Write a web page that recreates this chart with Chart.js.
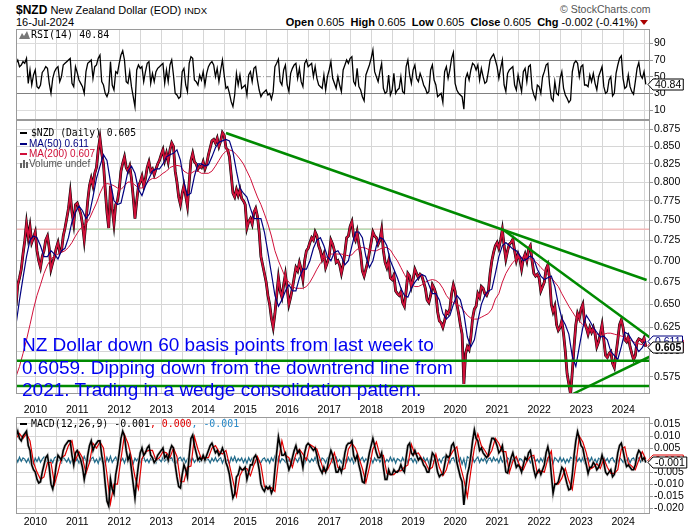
<!DOCTYPE html>
<html>
<head>
<meta charset="utf-8">
<script src="https://cdn.jsdelivr.net/npm/chart.js@4.4.1/dist/chart.umd.min.js"></script>
<style>
body { margin: 0; background: #fff; }
#wrap { position: relative; width: 700px; height: 530px; overflow: hidden; font-family: 'Liberation Sans', Arial, sans-serif; color: #000; }
#wrap canvas { position: absolute; left: 0; }
.t { position: absolute; white-space: nowrap; line-height: 12px; }
.mono { font-family: 'DejaVu Sans Mono', monospace; }
.dash { position: absolute; width: 7px; height: 2px; }
</style>
</head>
<body>
<div id="wrap">
  <div class="t" style="left:16px;top:3px;font-size:11px;line-height:14px"><b style="font-size:12px">$NZD</b> New Zealand Dollar (EOD) <span style="font-size:9.5px">INDX</span></div>
  <div class="t" style="left:16px;top:16px;font-size:11px">16-Jul-2024</div>
  <div class="t" style="left:560px;top:3px;font-size:10.5px;color:#555">© StockCharts.com</div>
  <div class="t" style="right:62px;top:16px;font-size:11px"><b>Open</b> 0.605&nbsp; <b>High</b> 0.605&nbsp; <b>Low</b> 0.605&nbsp; <b>Close</b> 0.605&nbsp; <b>Chg</b> -0.002 (-0.41%)</div>
  <div style="position:absolute;left:640px;top:20px;width:0;height:0;border-left:4px solid transparent;border-right:4px solid transparent;border-top:5px solid #a00"></div>

  <canvas id="rsiChart" width="700" height="91" style="top:29px"></canvas>
  <canvas id="priceChart" width="700" height="296" style="top:120px"></canvas>
  <canvas id="macdChart" width="700" height="113" style="top:417px"></canvas>

  <svg style="position:absolute;left:19px;top:31px" width="11" height="8"><polygon points="0,8 3,2 5,5 8,0 11,8" fill="#777"/></svg>
  <div class="t mono" style="left:31px;top:29px;font-size:10px">RSI(14) 40.84</div>

  <div class="dash" style="left:20px;top:132px;background:#000"></div>
  <div class="t mono" style="left:31px;top:127px;font-size:9.7px">$NZD (Daily) 0.605</div>
  <div class="dash" style="left:20px;top:143px;background:#000080"></div>
  <div class="t" style="left:29px;top:138px;font-size:10px;color:#000080">MA(50) 0.611</div>
  <div class="dash" style="left:20px;top:153px;background:#d0103a"></div>
  <div class="t" style="left:29px;top:148px;font-size:10px;color:#d0103a">MA(200) 0.607</div>
  <svg style="position:absolute;left:20px;top:160px" width="9" height="8"><rect x="0" y="3" width="2" height="5" fill="#666"/><rect x="3" y="0" width="2" height="8" fill="#666"/><rect x="6" y="2" width="2" height="6" fill="#666"/></svg>
  <div class="t" style="left:29px;top:158px;font-size:10px;color:#555">Volume undef</div>

  <div class="t" style="left:22px;top:334px;font-size:19px;line-height:22.5px;color:#0000f0">NZ Dollar down 60 basis points from last week to<br>0.6059. Dipping down from the downtrend line from<br>2021. Trading in a wedge consolidation pattern.</div>

  <div class="dash" style="left:20px;top:423px;background:#000"></div>
  <div class="t mono" style="left:31px;top:418px;font-size:9.9px">MACD(12,26,9) -0.001<span style="color:#e00000">, 0.000</span><span style="color:#2a8ac8">, -0.001</span></div>
</div>

<script>
// time axis: decimal years, first point = mid-July 2009
const X_MIN = 2009.54
const X_MAX = 2024.64
const HALF_MONTH = 1 / 24
const MONTH = 1 / 12

// $NZD close, one value every half month (Jul 2009 .. 16 Jul 2024)
const nzdClose = [
  0.648, 0.672, 0.680, 0.690, 0.708, 0.724, 0.746, 0.728, 0.742, 0.722, 0.728,
  0.735, 0.712, 0.700, 0.692, 0.705, 0.712, 0.725, 0.730, 0.715, 0.690, 0.698, 0.705, 0.715, 0.722, 0.710, 0.712, 0.730, 0.740, 0.752, 0.765, 0.785, 0.760, 0.745, 0.770,
  0.772, 0.765, 0.758, 0.745, 0.725, 0.748, 0.775, 0.795, 0.805, 0.795, 0.812, 0.820, 0.845, 0.862, 0.840, 0.825, 0.790, 0.760, 0.740, 0.795, 0.765, 0.745, 0.770, 0.775,
  0.790, 0.815, 0.826, 0.835, 0.820, 0.815, 0.822, 0.805, 0.780, 0.752, 0.775, 0.795, 0.800, 0.808, 0.795, 0.805, 0.820, 0.828, 0.815, 0.818, 0.810, 0.818, 0.825, 0.830,
  0.838, 0.845, 0.830, 0.840, 0.828, 0.845, 0.855, 0.850, 0.815, 0.800, 0.780, 0.770, 0.785, 0.795, 0.782, 0.768, 0.800, 0.830, 0.840, 0.828, 0.825, 0.818, 0.822, 0.820,
  0.828, 0.818, 0.825, 0.838, 0.848, 0.858, 0.860, 0.855, 0.862, 0.850, 0.858, 0.870, 0.866, 0.848, 0.845, 0.835, 0.810, 0.785, 0.780, 0.790, 0.782, 0.790, 0.778, 0.775,
  0.770, 0.740, 0.748, 0.752, 0.745, 0.760, 0.765, 0.755, 0.735, 0.705, 0.695, 0.685, 0.675, 0.660, 0.650, 0.635, 0.625, 0.640, 0.660, 0.680, 0.665, 0.658, 0.672, 0.684,
  0.668, 0.650, 0.658, 0.668, 0.680, 0.692, 0.688, 0.698, 0.690, 0.678, 0.700, 0.712, 0.715, 0.722, 0.728, 0.725, 0.735, 0.730, 0.718, 0.712, 0.702, 0.708, 0.692, 0.698,
  0.705, 0.725, 0.720, 0.712, 0.698, 0.700, 0.695, 0.685, 0.695, 0.710, 0.728, 0.730, 0.742, 0.748, 0.730, 0.725, 0.735, 0.720, 0.708, 0.688, 0.682, 0.690, 0.698, 0.710,
  0.722, 0.735, 0.730, 0.728, 0.720, 0.725, 0.738, 0.712, 0.698, 0.692, 0.700, 0.680, 0.678, 0.683, 0.665, 0.662, 0.660, 0.664, 0.652, 0.648, 0.665, 0.685, 0.682, 0.670,
  0.678, 0.690, 0.685, 0.680, 0.684, 0.682, 0.675, 0.668, 0.655, 0.652, 0.660, 0.672, 0.668, 0.662, 0.642, 0.632, 0.630, 0.625, 0.632, 0.642, 0.640, 0.645, 0.662, 0.672,
  0.665, 0.650, 0.640, 0.628, 0.618, 0.568, 0.598, 0.605, 0.602, 0.615, 0.635, 0.645, 0.648, 0.662, 0.658, 0.670, 0.668, 0.662, 0.660, 0.665, 0.685, 0.700, 0.710, 0.718,
  0.722, 0.715, 0.725, 0.738, 0.718, 0.702, 0.712, 0.720, 0.722, 0.726, 0.712, 0.700, 0.708, 0.702, 0.690, 0.702, 0.708, 0.700, 0.714, 0.718, 0.700, 0.685, 0.682, 0.684,
  0.680, 0.665, 0.670, 0.675, 0.690, 0.695, 0.680, 0.650, 0.642, 0.648, 0.628, 0.622, 0.625, 0.632, 0.618, 0.600, 0.578, 0.568, 0.558, 0.580, 0.605, 0.628, 0.640, 0.635,
  0.645, 0.650, 0.630, 0.625, 0.618, 0.625, 0.620, 0.625, 0.618, 0.605, 0.610, 0.618, 0.628, 0.612, 0.596, 0.594, 0.598, 0.600, 0.588, 0.584, 0.598, 0.612, 0.628, 0.633,
  0.625, 0.612, 0.610, 0.615, 0.605, 0.598, 0.592, 0.596, 0.610, 0.613, 0.612, 0.610, 0.614, 0.605
]

// moving averages, one value per month
const ma50 = [
  0.628, 0.655, 0.680, 0.705, 0.725, 0.730,
  0.728, 0.718, 0.705, 0.705, 0.712, 0.708, 0.702, 0.712, 0.715, 0.728, 0.748, 0.760,
  0.768, 0.762, 0.752, 0.758, 0.780, 0.805, 0.822, 0.838, 0.830, 0.800, 0.775, 0.770,
  0.772, 0.792, 0.815, 0.822, 0.812, 0.790, 0.782, 0.795, 0.805, 0.815, 0.818, 0.818,
  0.825, 0.835, 0.838, 0.840, 0.845, 0.830, 0.800, 0.782, 0.785, 0.808, 0.825, 0.825,
  0.822, 0.824, 0.835, 0.848, 0.856, 0.858, 0.860, 0.858, 0.842, 0.815, 0.792, 0.785,
  0.780, 0.765, 0.752, 0.752, 0.752, 0.735, 0.710, 0.685, 0.660, 0.648, 0.655, 0.665,
  0.672, 0.665, 0.665, 0.680, 0.690, 0.690, 0.700, 0.715, 0.725, 0.728, 0.718, 0.705,
  0.700, 0.710, 0.712, 0.705, 0.695, 0.700, 0.718, 0.735, 0.735, 0.728, 0.705, 0.692,
  0.700, 0.718, 0.728, 0.726, 0.718, 0.700, 0.690, 0.680, 0.668, 0.660, 0.658, 0.668,
  0.675, 0.680, 0.684, 0.682, 0.672, 0.662, 0.662, 0.655, 0.640, 0.634, 0.638, 0.650,
  0.660, 0.655, 0.640, 0.615, 0.605, 0.612, 0.632, 0.650, 0.660, 0.665, 0.667, 0.685,
  0.705, 0.718, 0.722, 0.718, 0.714, 0.712, 0.706, 0.700, 0.702, 0.706, 0.702, 0.690,
  0.682, 0.678, 0.680, 0.682, 0.670, 0.650, 0.635, 0.628, 0.618, 0.595, 0.585, 0.605,
  0.625, 0.638, 0.632, 0.625, 0.620, 0.615, 0.616, 0.612, 0.600, 0.596, 0.592, 0.605,
  0.620, 0.618, 0.612, 0.606, 0.600, 0.604, 0.611
]
const ma200 = [
  0.575, 0.585, 0.598, 0.612, 0.628, 0.645,
  0.660, 0.672, 0.685, 0.695, 0.702, 0.706, 0.708, 0.710, 0.712, 0.716, 0.722, 0.730,
  0.737, 0.742, 0.745, 0.752, 0.762, 0.772, 0.785, 0.795, 0.798, 0.797, 0.795, 0.792,
  0.790, 0.795, 0.800, 0.800, 0.796, 0.792, 0.792, 0.796, 0.802, 0.805, 0.805, 0.808,
  0.812, 0.815, 0.820, 0.822, 0.823, 0.822, 0.815, 0.812, 0.812, 0.815, 0.815, 0.812,
  0.812, 0.812, 0.815, 0.822, 0.830, 0.838, 0.843, 0.845, 0.843, 0.838, 0.832, 0.825,
  0.815, 0.805, 0.792, 0.780, 0.770, 0.758, 0.745, 0.730, 0.712, 0.700, 0.690, 0.680,
  0.675, 0.670, 0.668, 0.668, 0.668, 0.670, 0.675, 0.682, 0.690, 0.697, 0.702, 0.705,
  0.708, 0.708, 0.708, 0.708, 0.707, 0.706, 0.707, 0.712, 0.715, 0.716, 0.715, 0.713,
  0.712, 0.712, 0.714, 0.716, 0.716, 0.713, 0.706, 0.700, 0.692, 0.684, 0.677, 0.672,
  0.670, 0.670, 0.672, 0.675, 0.677, 0.678, 0.677, 0.674, 0.668, 0.660, 0.655, 0.652,
  0.650, 0.648, 0.643, 0.638, 0.635, 0.634, 0.634, 0.636, 0.638, 0.640, 0.645, 0.656,
  0.662, 0.675, 0.685, 0.692, 0.698, 0.702, 0.704, 0.704, 0.703, 0.702, 0.700, 0.697,
  0.692, 0.688, 0.684, 0.680, 0.675, 0.670, 0.662, 0.655, 0.648, 0.642, 0.636, 0.632,
  0.628, 0.625, 0.622, 0.620, 0.618, 0.618, 0.618, 0.619, 0.619, 0.618, 0.617, 0.616,
  0.615, 0.613, 0.611, 0.609, 0.608, 0.607, 0.607
]

// RSI(14), half-monthly
const rsi14 = [
  66, 70, 62, 64, 68, 66, 72, 42, 58, 40, 52,
  58, 38, 36, 40, 55, 58, 62, 60, 42, 30, 48, 56, 60, 62, 44, 50, 64, 66, 68, 70, 72, 42, 38, 62,
  55, 46, 42, 38, 30, 56, 66, 68, 70, 48, 62, 64, 72, 76, 44, 40, 30, 26, 32, 68, 40, 34, 56, 54,
  66, 76, 81, 70, 44, 42, 56, 38, 26, 14, 58, 64, 60, 62, 44, 56, 66, 68, 42, 54, 44, 56, 60, 62,
  64, 66, 42, 58, 44, 64, 70, 52, 30, 28, 24, 26, 56, 60, 40, 32, 66, 74, 72, 46, 44, 40, 52, 46,
  56, 40, 54, 62, 66, 68, 64, 50, 60, 44, 58, 70, 52, 36, 38, 30, 20, 14, 28, 54, 40, 52, 36, 38,
  40, 28, 52, 56, 44, 60, 62, 46, 34, 26, 30, 32, 34, 28, 30, 23, 32, 62, 66, 71, 44, 40, 58, 64,
  40, 32, 54, 60, 64, 66, 48, 60, 44, 38, 66, 70, 62, 64, 66, 50, 62, 48, 40, 38, 36, 52, 34, 50,
  58, 68, 48, 42, 36, 50, 40, 32, 58, 64, 70, 66, 72, 74, 44, 40, 60, 38, 34, 26, 21, 52, 58, 64,
  72, 82, 56, 50, 44, 56, 66, 36, 30, 32, 52, 28, 34, 54, 30, 34, 36, 50, 32, 30, 62, 70, 52, 42,
  58, 64, 48, 44, 54, 48, 40, 36, 30, 32, 58, 64, 46, 40, 26, 28, 30, 19, 56, 62, 48, 58, 72, 79,
  42, 34, 30, 28, 26, 11, 48, 54, 46, 58, 66, 64, 58, 64, 46, 60, 50, 42, 44, 56, 70, 74, 77, 70,
  62, 48, 60, 70, 40, 32, 54, 58, 60, 62, 40, 34, 52, 42, 32, 56, 60, 44, 62, 64, 36, 28, 23, 40,
  38, 30, 50, 56, 64, 66, 40, 24, 21, 44, 30, 28, 48, 56, 36, 28, 24, 19, 22, 56, 66, 69, 66, 50,
  62, 64, 40, 40, 38, 52, 44, 54, 42, 34, 50, 56, 62, 38, 30, 32, 46, 50, 27, 30, 54, 64, 72, 75,
  48, 36, 38, 52, 38, 32, 29, 44, 60, 67, 52, 48, 56, 40.84
]

// MACD(12,26,9): line and histogram half-monthly, signal monthly
const macdLine = [
  0.010, 0.012, 0.009, 0.008, 0.010, 0.011, 0.012, 0.006, 0.004, -0.002, -0.004,
  -0.005, -0.008, -0.0095, -0.009, -0.005, -0.002, 0.001, 0.002, -0.003, -0.010, -0.012, -0.008, -0.002, 0.002, 0.001, 0.000, 0.004, 0.006, 0.007, 0.008, 0.008, 0.002, -0.002, 0.003,
  0.004, 0.002, 0.000, -0.003, -0.008, -0.004, 0.002, 0.006, 0.008, 0.004, 0.006, 0.007, 0.008, 0.008, 0.002, -0.002, -0.010, -0.017, -0.019, -0.008, -0.012, -0.014, -0.006, -0.002,
  0.003, 0.009, 0.012, 0.010, 0.004, 0.000, 0.002, -0.004, -0.010, -0.0157, -0.008, -0.002, 0.003, 0.005, 0.002, 0.003, 0.005, 0.006, 0.002, 0.001, -0.001, 0.000, 0.002, 0.003,
  0.004, 0.005, 0.001, 0.002, 0.000, 0.004, 0.006, 0.005, -0.002, -0.007, -0.011, -0.0116, -0.006, -0.002, -0.004, -0.007, 0.002, 0.009, 0.0104, 0.006, 0.003, 0.000, 0.001, 0.000,
  0.002, 0.000, 0.002, 0.004, 0.006, 0.007, 0.005, 0.003, 0.004, 0.002, 0.003, 0.005, 0.003, -0.001, -0.003, -0.006, -0.011, -0.0157, -0.014, -0.007, -0.006, -0.003, -0.004, -0.004,
  -0.003, -0.008, -0.005, -0.002, -0.002, 0.001, 0.002, 0.000, -0.004, -0.010, -0.012, -0.013, -0.011, -0.012, -0.011, -0.0137, -0.012, -0.004, 0.003, 0.0097, 0.006, 0.002, 0.002, 0.003,
  -0.001, -0.004, -0.002, 0.001, 0.004, 0.006, 0.003, 0.004, 0.001, -0.003, 0.003, 0.006, 0.007, 0.006, 0.005, 0.004, 0.005, 0.002, -0.002, -0.004, -0.0054, -0.003, -0.005, -0.003,
  0.001, 0.004, 0.002, -0.001, -0.005, -0.005, -0.003, -0.005, -0.002, 0.003, 0.006, 0.007, 0.007, 0.008, 0.002, 0.000, 0.002, -0.002, -0.005, -0.009, -0.0095, -0.005, -0.001, 0.003,
  0.006, 0.009, 0.006, 0.003, 0.001, 0.001, 0.003, -0.003, -0.008, -0.008, -0.004, -0.006, -0.006, -0.004, -0.005, -0.005, -0.004, -0.002, -0.004, -0.005, 0.001, 0.006, 0.007, 0.003,
  0.002, 0.004, 0.002, 0.000, 0.001, 0.000, -0.002, -0.003, -0.005, -0.005, -0.001, 0.003, 0.002, -0.001, -0.005, -0.0069, -0.006, -0.006, -0.002, 0.002, 0.001, 0.002, 0.006, 0.007,
  0.004, -0.001, -0.004, -0.007, -0.009, -0.0186, -0.012, -0.006, -0.003, 0.002, 0.008, 0.0125, 0.009, 0.008, 0.004, 0.005, 0.003, 0.002, 0.001, 0.002, 0.006, 0.009, 0.009, 0.008,
  0.006, 0.003, 0.004, 0.006, 0.001, -0.005, -0.0054, -0.002, 0.001, 0.003, 0.000, -0.003, -0.002, -0.003, -0.005, -0.002, 0.001, 0.000, 0.003, 0.004, 0.000, -0.004, -0.0069, -0.005,
  -0.004, -0.006, -0.004, -0.002, 0.003, 0.0055, 0.002, -0.006, -0.0137, -0.010, -0.010, -0.009, -0.006, -0.003, -0.004, -0.007, -0.010, -0.0124, -0.012, -0.006, 0.002, 0.008, 0.0118, 0.009,
  0.006, 0.005, 0.001, -0.002, -0.0055, -0.003, -0.003, -0.001, -0.002, -0.004, -0.003, -0.001, 0.002, -0.001, -0.005, -0.006, -0.005, -0.004, -0.0069, -0.006, -0.002, 0.003, 0.006, 0.007,
  0.004, 0.000, -0.0027, -0.002, -0.003, -0.004, -0.004, -0.002, 0.002, 0.004, 0.003, 0.000, 0.001, -0.001
]
const macdSignal = [
  0.009, 0.011, 0.009, 0.011, 0.008, -0.001,
  -0.005, -0.008, -0.007, -0.001, -0.001, -0.010, -0.005, 0.001, 0.002, 0.006, 0.008, 0.000,
  0.0035, 0.001, -0.0055, -0.001, 0.007, 0.005, 0.0075, 0.005, -0.006, -0.018, -0.010, -0.010,
  0.0005, 0.0105, 0.007, 0.001, -0.007, -0.012, 0.0005, 0.0035, 0.004, 0.004, 0.000, 0.001,
  0.0035, 0.003, 0.001, 0.005, 0.0015, -0.009, -0.009, -0.003, -0.0025, 0.0097, 0.0045, 0.0005,
  0.001, 0.001, 0.005, 0.006, 0.0035, 0.0025, 0.004, -0.002, -0.0085, -0.015, -0.0065, -0.0035,
  -0.0035, -0.0065, -0.002, 0.0015, -0.002, -0.011, -0.012, -0.0115, -0.013, -0.0005, 0.008, 0.002,
  0.001, -0.003, 0.0025, 0.0045, 0.0025, 0.000, 0.0065, 0.0055, 0.0045, 0.000, -0.0047, -0.004,
  -0.001, 0.003, -0.003, -0.004, -0.0035, 0.0045, 0.007, 0.005, 0.001, -0.0035, -0.0093, -0.003,
  0.0045, 0.0075, 0.002, 0.002, -0.0055, -0.006, -0.006, -0.0045, -0.0045, -0.003, -0.002, 0.0065,
  0.0025, 0.003, 0.0005, -0.001, -0.004, -0.003, 0.0025, -0.003, -0.0065, -0.004, 0.0015, 0.004,
  0.0055, -0.0025, -0.008, -0.0153, -0.0045, 0.005, 0.0108, 0.006, 0.004, 0.0015, 0.004, 0.009,
  0.007, 0.0035, 0.0035, -0.0052, -0.0005, 0.0015, -0.0025, -0.004, -0.0005, 0.0015, 0.002, -0.0055,
  -0.0045, -0.005, 0.0005, 0.0038, -0.0098, -0.010, -0.0075, -0.0035, -0.0085, -0.0122, -0.002, 0.0099,
  0.0075, 0.003, -0.0038, -0.003, -0.0015, -0.0035, 0.0005, -0.003, -0.0055, -0.0055, -0.004, 0.0045,
  0.0055, -0.0013, -0.0025, -0.004, 0.000, 0.0035, 0.0003
]
const macdHist = [
  0.0010, -0.0008, 0.0012, -0.0005, 0.0009, 0.0004, -0.0010, 0.0006, -0.0012, 0.0002, -0.0015,
  0.0008, -0.0006, 0.0011, -0.0009, 0.0004, 0.0013, -0.0007, 0.0005, -0.0016, 0.0003, -0.0011, 0.0009, 0.0014, -0.0004, 0.0006, -0.0010, 0.0012, 0.0003, -0.0008, 0.0007, -0.0013, 0.0002, 0.0010, -0.0006,
  0.0005, -0.0012, 0.0009, -0.0007, 0.0015, -0.0003, 0.0008, -0.0011, 0.0006, 0.0012, -0.0009, 0.0004, -0.0014, 0.0010, -0.0005, 0.0007, -0.0018, 0.0011, -0.0006, 0.0016, -0.0010, 0.0003, 0.0013, -0.0008,
  0.0012, -0.0004, 0.0007, -0.0013, 0.0009, -0.0006, 0.0011, 0.0002, -0.0015, 0.0008, -0.0003, 0.0010, -0.0009, 0.0005, 0.0013, -0.0007, 0.0004, -0.0011, 0.0008, -0.0002, 0.0006, -0.0012, 0.0009, 0.0003,
  -0.0007, 0.0011, -0.0005, 0.0008, -0.0012, 0.0006, 0.0010, -0.0009, 0.0003, -0.0014, 0.0007, 0.0012, -0.0004, 0.0009, -0.0011, 0.0005, 0.0014, -0.0006, 0.0008, -0.0010, 0.0002, 0.0011, -0.0008, 0.0004,
  0.0009, -0.0010, 0.0006, 0.0003, -0.0012, 0.0008, -0.0005, 0.0011, -0.0007, 0.0004, 0.0010, -0.0013, 0.0006, -0.0009, 0.0002, -0.0016, 0.0012, -0.0004, 0.0015, -0.0008, 0.0007, -0.0003, 0.0009, -0.0011,
  0.0006, -0.0014, 0.0010, -0.0005, 0.0008, 0.0003, -0.0009, 0.0012, -0.0006, -0.0011, 0.0004, 0.0009, -0.0007, 0.0005, -0.0012, 0.0010, -0.0004, 0.0016, -0.0008, 0.0013, -0.0010, 0.0006, 0.0002, -0.0009,
  0.0011, -0.0006, 0.0004, -0.0013, 0.0009, 0.0005, -0.0008, 0.0012, -0.0003, 0.0007, -0.0015, 0.0010, 0.0002, -0.0009, 0.0006, -0.0005, 0.0013, -0.0011, 0.0004, -0.0007, 0.0009, 0.0003, -0.0012, 0.0008,
  -0.0004, 0.0010, -0.0009, 0.0006, 0.0013, -0.0007, 0.0003, -0.0012, 0.0008, 0.0005, -0.0010, 0.0011, -0.0006, 0.0009, -0.0014, 0.0004, 0.0007, -0.0011, 0.0002, 0.0012, -0.0008, 0.0006, -0.0005, 0.0010,
  0.0007, -0.0012, 0.0009, -0.0004, 0.0011, -0.0008, 0.0005, 0.0014, -0.0010, 0.0003, -0.0007, 0.0012, -0.0005, 0.0008, -0.0013, 0.0006, 0.0002, -0.0009, 0.0010, -0.0006, 0.0013, -0.0011, 0.0004, 0.0007,
  -0.0009, 0.0006, -0.0012, 0.0010, 0.0004, -0.0007, 0.0011, -0.0005, 0.0008, -0.0014, 0.0009, 0.0003, -0.0010, 0.0012, -0.0006, 0.0005, -0.0011, 0.0009, 0.0015, -0.0004, 0.0007, -0.0013, 0.0006, 0.0010,
  -0.0008, 0.0012, -0.0005, 0.0009, -0.0017, 0.0006, -0.0030, 0.0014, 0.0008, -0.0006, 0.0011, -0.0009, 0.0004, 0.0013, -0.0010, 0.0007, -0.0004, 0.0010, -0.0012, 0.0005, 0.0009, -0.0007, 0.0012, -0.0003,
  0.0006, -0.0011, 0.0013, -0.0008, 0.0004, -0.0012, 0.0009, 0.0002, -0.0010, 0.0007, -0.0005, 0.0011, -0.0009, 0.0006, 0.0003, -0.0013, 0.0010, -0.0004, 0.0008, -0.0011, 0.0005, 0.0012, -0.0007, 0.0004,
  -0.0010, 0.0008, -0.0006, 0.0013, -0.0004, 0.0009, -0.0012, 0.0005, -0.0015, 0.0010, 0.0003, -0.0008, 0.0011, -0.0006, 0.0007, -0.0013, 0.0004, -0.0009, 0.0012, 0.0006, -0.0011, 0.0014, -0.0005, 0.0008,
  -0.0007, 0.0010, -0.0012, 0.0005, 0.0009, -0.0006, 0.0011, -0.0009, 0.0004, -0.0013, 0.0008, 0.0002, -0.0010, 0.0012, -0.0005, 0.0007, -0.0011, 0.0006, 0.0010, -0.0008, 0.0004, -0.0012, 0.0009, 0.0003,
  -0.0009, 0.0011, -0.0006, 0.0008, -0.0012, 0.0005, 0.0009, -0.0007, 0.0004, 0.0010, -0.0008, 0.0006, -0.0004, -0.001
]

// drawn annotations: [year, price] end points
const downtrend2014 = [[2014.54, 0.8695], [2024.56, 0.6775]]
const downtrend2021 = [[2021.15, 0.7375], [2024.63, 0.6147]]
const uptrend2022 = [[2022.80, 0.5583], [2024.63, 0.5948]]
const support1 = [[X_MIN, 0.5907], [X_MAX, 0.5907]]
const support2 = [[X_MIN, 0.5659], [X_MAX, 0.5659]]
const resistance = [[X_MIN, 0.7384], [X_MAX, 0.7384]]
const resistanceGreen = [[2010.77, 0.7384], [2018.0, 0.7384]]

// tick labels
const priceTicks = [0.575, 0.600, 0.625, 0.650, 0.675, 0.700, 0.725, 0.750, 0.775, 0.800, 0.825, 0.850, 0.875]
const rsiTicks = [10, 30, 50, 70, 90]
const macdTicks = [-0.020, -0.015, -0.010, -0.005, 0, 0.005, 0.010, 0.015]
const yearTicks = []
for (let y = 2010; y <= 2024.5; y += 0.5) yearTicks.push(y)

Chart.defaults.font.family = "'Liberation Sans', Arial, sans-serif"
Chart.defaults.color = '#000'

function series(vals, step) {
    return vals.map((v, i) => ({x: X_MIN + i * step, y: v}))
}
function pairs(p) {
    return p.map(d => ({x: d[0], y: d[1]}))
}
function line(data, color, width, extra) {
    return Object.assign({data: data, borderColor: color, borderWidth: width, pointRadius: 0, fill: false, tension: 0}, extra || {})
}

function xAxis(showLabels, height, pad) {
    return {
        type: 'linear', min: X_MIN, max: X_MAX, bounds: 'data',
        afterBuildTicks: s => { s.ticks = yearTicks.map(v => ({value: v})) },
        afterFit: s => { s.height = height; s.paddingLeft = 0; s.paddingRight = 0 },
        grid: {color: '#d6d6d6', drawTicks: false},
        border: {display: false},
        ticks: {
            display: showLabels, autoSkip: false, maxRotation: 0, padding: pad,
            font: {size: 10.5},
            callback: v => Number.isInteger(v) ? String(v) : ''
        }
    }
}
function yAxis(type, min, max, ticks, fmt, gridColor) {
    return {
        type: type, position: 'right', min: min, max: max, bounds: 'data',
        afterBuildTicks: s => { s.ticks = ticks.map(v => ({value: v})) },
        afterFit: s => { s.width = 50; s.paddingTop = 0; s.paddingBottom = 0 },
        grid: {color: gridColor || '#d6d6d6', tickLength: 3, tickColor: '#999'},
        border: {display: false},
        ticks: {autoSkip: false, padding: 1, font: {size: 10.5}, callback: fmt}
    }
}

// panel frame
const frame = {
    id: 'frame',
    afterDatasetsDraw(chart) {
        const a = chart.chartArea, c = chart.ctx
        c.save()
        c.strokeStyle = '#9a9a9a'
        c.lineWidth = 1
        c.strokeRect(a.left + 0.5, a.top + 0.5, a.right - a.left - 1, a.bottom - a.top - 1)
        c.restore()
    }
}
// last value tags on the right axis
function valueTags(tags) {
    return {
        id: 'valueTags',
        afterDraw(chart) {
            const c = chart.ctx, y = chart.scales.y, x0 = chart.chartArea.right - 2
            c.save()
            tags.forEach(t => {
                const py = Math.round(y.getPixelForValue(t.value)) + 0.5
                c.font = (t.bold ? 'bold ' : '') + '10.5px "Liberation Sans", Arial'
                const w = c.measureText(t.text).width + 4
                c.beginPath()
                c.moveTo(x0, py)
                c.lineTo(x0 + 5, py - 5.5)
                c.lineTo(x0 + 5 + w, py - 5.5)
                c.lineTo(x0 + 5 + w, py + 5.5)
                c.lineTo(x0 + 5, py + 5.5)
                c.closePath()
                c.fillStyle = '#fff'
                c.fill()
                c.strokeStyle = t.color
                c.lineWidth = 1
                c.stroke()
                c.fillStyle = t.color
                c.textBaseline = 'middle'
                c.fillText(t.text, x0 + 7, py + 0.5)
            })
            c.restore()
        }
    }
}

const common = {
    responsive: false, animation: false, devicePixelRatio: 1,
    layout: {padding: {left: 16, right: 0, top: 0, bottom: 0}},
    plugins: {legend: {display: false}, tooltip: {enabled: false}}
}

// RSI panel
new Chart(document.getElementById('rsiChart'), {
    type: 'line',
    data: {datasets: [
        line(series(rsi14, HALF_MONTH), '#000', 1.3),
        line(pairs([[X_MIN, 50], [X_MAX, 50]]), '#999', 1, {borderDash: [5, 2, 1, 2]})
    ]},
    options: Object.assign({}, common, {
        scales: {
            x: xAxis(false, 0, 0),
            y: yAxis('linear', -2, 107.2, rsiTicks, v => String(v),
                ctx => (ctx.tick && (ctx.tick.value === 30 || ctx.tick.value === 70)) ? '#808080' : (ctx.tick && ctx.tick.value === 50 ? 'rgba(0,0,0,0)' : '#dcdcdc'))
        }
    }),
    plugins: [frame, valueTags([{value: 40.84, text: '40.84', color: '#000'}])]
})

// price panel
new Chart(document.getElementById('priceChart'), {
    type: 'line',
    data: {datasets: [
        line(pairs(downtrend2014), '#008a00', 2.5),
        line(pairs(downtrend2021), '#008a00', 2.5),
        line(pairs(uptrend2022), '#008a00', 2.5),
        line(pairs(support1), '#008a00', 2.5),
        line(pairs(support2), '#008a00', 2.5),
        line(series(ma50, MONTH), '#000080', 1.2),
        line(series(ma200, MONTH), '#d0103a', 1),
        line(series(nzdClose, HALF_MONTH), '#d0103a', 1.8),
        line(series(nzdClose, HALF_MONTH), '#000', 2.8),
        line(pairs(resistanceGreen), '#b4dcb4', 1.5),
        line(pairs(resistance), '#f2b8b8', 1.5)
    ]},
    options: Object.assign({}, common, {
        scales: {
            x: xAxis(true, 22, 10),
            y: yAxis('logarithmic', 0.5583, 0.8889, priceTicks, v => Number(v).toFixed(3))
        }
    }),
    plugins: [frame, valueTags([
        {value: 0.607, text: '0.607', color: '#d0103a'},
        {value: 0.611, text: '0.611', color: '#000080'},
        {value: 0.605, text: '0.605', color: '#000', bold: true}
    ])]
})

// MACD panel
new Chart(document.getElementById('macdChart'), {
    type: 'line',
    data: {datasets: [
        line(series(macdLine, HALF_MONTH), '#000', 1.6),
        line(series(macdSignal, MONTH), '#e00000', 1.2),
        line(series(macdLine, HALF_MONTH), '#cfcfcf', 3),
        line(series(macdHist, HALF_MONTH), '#1f6a8a', 1.2)
    ]},
    options: Object.assign({}, common, {
        scales: {
            x: xAxis(true, 16, 2),
            y: yAxis('linear', -0.0224, 0.0179, macdTicks, v => v === 0 ? '' : Number(v).toFixed(3))
        }
    }),
    plugins: [frame, valueTags([
        {value: 0.0, text: '0.000', color: '#e00000'},
        {value: -0.001, text: '-0.001', color: '#000'}
    ])]
})
</script>
</body>
</html>
